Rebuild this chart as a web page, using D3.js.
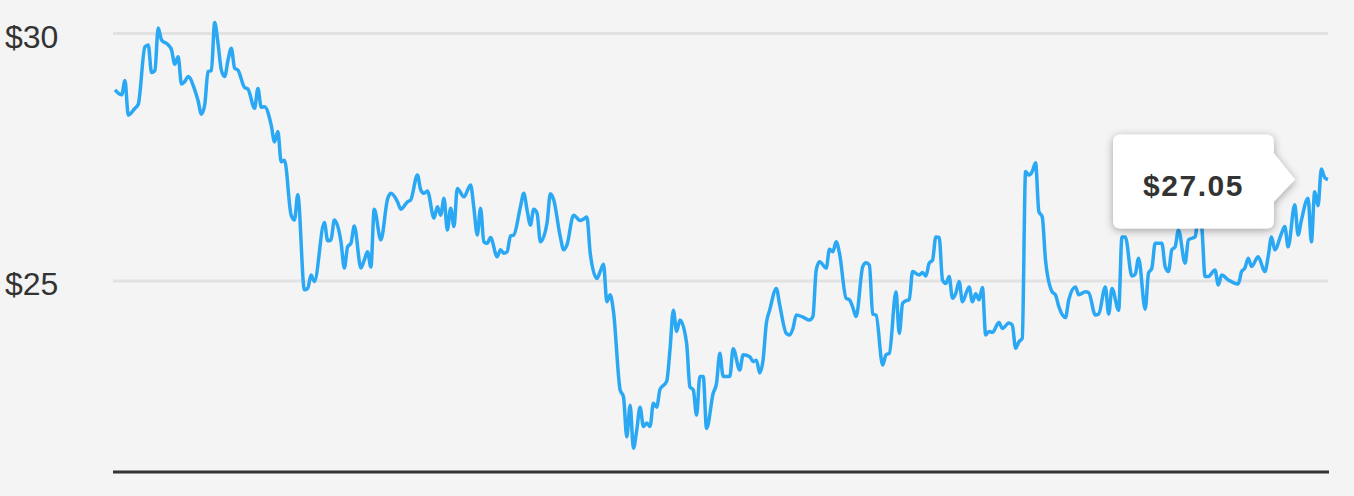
<!DOCTYPE html>
<html>
<head>
<meta charset="utf-8">
<script src="https://cdn.jsdelivr.net/npm/d3@7"></script>
<style>
  body { margin: 0; background: #f4f4f4; }
  svg { display: block; font-family: "Liberation Sans", Arial, Helvetica, sans-serif; }
</style>
</head>
<body>
<svg id="chart"></svg>
<script>
// day of the year (0..365) for every sampled close
var days = [0,2,3,4,6,7,9,10,11,12,13,14,16,17,18,19,20,21,22,24,25,26,27,28,29,30,31,32,33,34,35,36,37,39,40,42,43,44,45,47,48,49,50,51,53,54,55,57,58,59,60,63,64,65,66,68,69,70,71,72,74,75,76,77,78,80,82,83,85,86,88,89,91,92,93,94,96,97,98,99,100,101,102,103,105,107,108,109,110,111,112,113,115,116,117,118,119,120,122,123,124,125,126,127,128,130,131,132,134,135,136,138,140,141,142,143,145,146,147,148,149,150,152,153,154,155,156,157,158,159,160,161,162,163,164,166,167,168,169,170,172,173,174,175,176,177,178,180,181,182,183,185,186,188,189,191,192,193,194,195,196,197,199,200,202,203,204,205,207,209,210,211,212,214,215,216,217,218,220,221,222,223,225,226,227,228,229,231,232,233,235,236,237,238,239,240,242,243,244,245,246,247,248,249,250,251,252,253,254,255,257,258,259,260,261,262,263,264,266,267,269,270,271,272,273,274,275,276,277,278,279,280,282,283,284,286,287,289,290,292,293,295,296,298,299,300,302,303,304,306,307,308,310,311,312,313,315,316,317,318,319,320,322,323,325,326,327,328,329,331,332,333,335,338,339,340,341,342,344,346,347,348,349,351,352,353,355,356,357,359,360,361,362,363,364,365]

// closing price in dollars, same order as days
var prices = [28.86,28.76,29.05,28.35,28.49,28.57,29.73,29.77,29.21,29.25,30.11,29.87,29.77,29.67,29.38,29.53,28.98,29.03,29.13,28.86,28.64,28.37,28.56,29.23,29.25,30.22,29.80,29.26,29.13,29.46,29.70,29.30,29.26,28.91,28.88,28.49,28.89,28.51,28.52,28.15,27.81,28.02,27.41,27.44,26.33,26.23,26.74,24.82,24.85,25.12,24.99,26.18,25.81,25.83,26.23,25.79,25.26,25.69,25.76,26.11,25.26,25.42,25.59,25.28,26.45,25.83,26.65,26.77,26.60,26.45,26.60,26.64,27.14,26.84,26.77,26.82,26.27,26.50,26.33,26.67,26.03,26.47,26.10,26.87,26.70,26.94,26.47,25.93,26.47,25.79,25.76,25.88,25.49,25.63,25.56,25.59,25.91,25.93,26.50,26.77,26.43,26.13,26.45,26.37,25.79,26.17,26.76,26.64,25.89,25.63,25.73,26.33,26.22,26.25,26.29,25.56,25.05,25.19,25.34,24.58,24.72,24.38,22.80,22.66,21.85,22.49,21.62,21.99,22.45,22.06,22.13,22.06,22.53,22.45,22.81,22.97,23.61,24.41,23.98,24.21,23.74,22.86,22.80,22.29,23.07,23.07,22.02,22.73,22.93,23.54,23.07,23.07,23.63,23.20,23.51,23.47,23.37,23.40,23.14,23.40,24.15,24.41,24.85,24.52,23.94,23.91,24.04,24.31,24.27,24.21,24.28,25.22,25.39,25.26,25.64,25.59,25.79,25.56,24.65,24.62,24.47,24.28,25.29,25.37,25.32,24.33,24.31,23.30,23.51,23.54,24.78,23.94,24.55,24.60,24.62,25.19,25.12,25.17,25.10,25.36,25.42,25.89,25.88,25.02,24.95,25.09,24.65,24.75,24.99,24.58,24.88,24.58,24.74,24.62,24.87,23.91,23.98,23.96,24.16,24.04,24.15,24.11,23.64,23.77,23.84,27.21,27.14,27.21,27.39,26.40,26.30,25.42,24.78,24.72,24.48,24.26,24.62,24.88,24.72,24.78,24.76,24.31,24.33,24.88,24.33,24.85,24.41,25.89,25.89,25.10,25.14,25.46,24.43,25.16,25.26,25.76,25.76,25.29,25.19,25.63,25.69,26.03,25.36,25.83,25.89,26.27,26.09,25.09,25.09,25.22,24.92,25.12,25.02,24.94,25.19,25.26,25.46,25.29,25.49,25.19,25.49,25.89,25.63,25.96,26.10,25.69,26.54,25.93,26.23,26.67,25.79,26.80,26.52,27.26,27.09,27.05]

var yTicks = [25, 30]
var yDomain = [21.16, 30]

var width = 1354
var height = 496
var margin = {top: 33.5, right: 26, bottom: 25, left: 115}

var svg = d3.select("#chart")
  .attr("width", width)
  .attr("height", height)

svg.append("rect")
  .attr("width", width)
  .attr("height", height)
  .attr("fill", "#f4f4f4")

var x = d3.scaleLinear()
  .domain([0, 365])
  .range([margin.left, width - margin.right])

var y = d3.scaleLinear()
  .domain(yDomain)
  .range([height - margin.bottom, margin.top])

var data = days.map((d, i) => ({day: d, price: prices[i]}))

// grid lines + labels
var grid = svg.append("g").attr("class", "grid")
grid.selectAll("line")
  .data(yTicks)
  .join("line")
  .attr("x1", margin.left - 2)
  .attr("x2", width - margin.right)
  .attr("y1", d => y(d))
  .attr("y2", d => y(d))
  .attr("stroke", "#e2e2e2")
  .attr("stroke-width", 3)

grid.selectAll("text")
  .data(yTicks)
  .join("text")
  .attr("x", 5)
  .attr("y", d => y(d) + 14.5)
  .attr("fill", "#333")
  .attr("font-size", 32)
  .text(d => "$" + d)

// bottom axis line
svg.append("line")
  .attr("x1", margin.left - 2)
  .attr("x2", width - margin.right + 1)
  .attr("y1", y(yDomain[0]) + 1)
  .attr("y2", y(yDomain[0]) + 1)
  .attr("stroke", "#333")
  .attr("stroke-width", 3)

var line = d3.line()
  .x(d => x(d.day))
  .y(d => y(d.price))
  .curve(d3.curveMonotoneX)

svg.append("path")
  .datum(data)
  .attr("d", line)
  .attr("fill", "none")
  .attr("stroke", "#2ba8f4")
  .attr("stroke-width", 3.5)
  .attr("stroke-linejoin", "round")

// tooltip on last close
var last = data[data.length - 1]
var defs = svg.append("defs")
var shadow = defs.append("filter")
  .attr("id", "shadow")
  .attr("x", "-20%").attr("y", "-30%")
  .attr("width", "140%").attr("height", "160%")
shadow.append("feDropShadow")
  .attr("dx", 0).attr("dy", 2)
  .attr("stdDeviation", 4)
  .attr("flood-color", "#000")
  .attr("flood-opacity", 0.35)

var tipX = x(last.day) - 33
var tipY = y(last.price)
var boxR = tipX - 21, boxL = boxR - 161, boxT = tipY - 45, boxB = tipY + 49, rad = 8

var tipPath = "M" + (boxL + rad) + "," + boxT +
  "H" + (boxR - rad) + "Q" + boxR + "," + boxT + " " + boxR + "," + (boxT + rad) +
  "V" + (tipY - 26) + "L" + tipX + "," + tipY + "L" + boxR + "," + (tipY + 22) +
  "V" + (boxB - rad) + "Q" + boxR + "," + boxB + " " + (boxR - rad) + "," + boxB +
  "H" + (boxL + rad) + "Q" + boxL + "," + boxB + " " + boxL + "," + (boxB - rad) +
  "V" + (boxT + rad) + "Q" + boxL + "," + boxT + " " + (boxL + rad) + "," + boxT + "Z"

var tip = svg.append("g").attr("class", "tooltip")
tip.append("path")
  .attr("d", tipPath)
  .attr("fill", "#fff")
  .attr("filter", "url(#shadow)")

tip.append("text")
  .attr("x", (boxL + boxR) / 2)
  .attr("y", tipY + 16.5)
  .attr("text-anchor", "middle")
  .attr("font-size", 30)
  .attr("font-weight", "bold")
  .attr("letter-spacing", 1.5)
  .attr("fill", "#333")
  .text("$" + last.price.toFixed(2))
</script>
</body>
</html>
